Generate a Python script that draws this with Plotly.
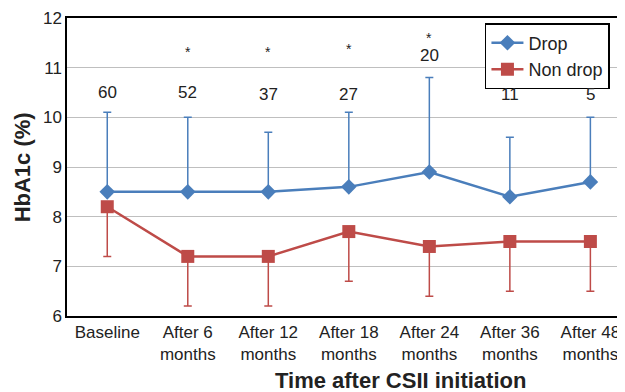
import plotly.graph_objects as go

categories = ["Baseline", "After 6<br>months", "After 12<br>months", "After 18<br>months",
              "After 24<br>months", "After 36<br>months", "After 48<br>months"]
drop_mean = [8.5, 8.5, 8.5, 8.6, 8.9, 8.4, 8.7]
drop_sd = [1.6, 1.5, 1.2, 1.5, 1.9, 1.2, 1.3]
nondrop_mean = [8.2, 7.2, 7.2, 7.7, 7.4, 7.5, 7.5]
nondrop_sd = [1.0, 1.0, 1.0, 1.0, 1.0, 1.0, 1.0]
n_labels = ["60", "52", "37", "27", "20", "11", "5"]
n_label_y = [10.5, 10.5, 10.45, 10.45, 11.25, 10.45, 10.45]
star_flags = [False, True, True, True, True, False, False]
star_y = [None, 11.32, 11.32, 11.37, 11.6, None, None]

blue = "#4A7EBB"
red = "#BE4B48"
x = list(range(len(categories)))

fig = go.Figure()
fig.add_trace(go.Scatter(
    x=x, y=drop_mean, name="Drop", mode="lines+markers",
    line=dict(color=blue, width=2.5),
    marker=dict(symbol="diamond", size=12, color=blue),
    error_y=dict(type="data", array=drop_sd, arrayminus=[0]*7, symmetric=False,
                 color=blue, thickness=1.5, width=4),
))
fig.add_trace(go.Scatter(
    x=x, y=nondrop_mean, name="Non drop", mode="lines+markers",
    line=dict(color=red, width=2.5),
    marker=dict(symbol="square", size=13, color=red),
    error_y=dict(type="data", array=[0]*7, arrayminus=nondrop_sd, symmetric=False,
                 color=red, thickness=1.5, width=4),
))

for i in x:
    fig.add_annotation(x=i, y=n_label_y[i], text=n_labels[i], showarrow=False,
                       font=dict(size=17, color="#222"))
    if star_flags[i]:
        fig.add_annotation(x=i, y=star_y[i], text="*", showarrow=False,
                           font=dict(size=14, color="#222"))

# page has an 8px body margin, so the figure is sized/positioned to compensate
fig.add_annotation(xref="paper", yref="paper", x=0.597, y=-0.215, yanchor="middle",
                   text="<b>Time after CSII initiation</b>", showarrow=False,
                   font=dict(size=22, color="#222"))
fig.add_annotation(xref="paper", yref="paper", x=-0.08, y=0.5, xanchor="center",
                   yanchor="middle",
                   text="<b>HbA1c (%)</b>", showarrow=False, textangle=-90,
                   font=dict(size=22, color="#222"))

fig.update_layout(
    width=617, height=384,
    margin=dict(l=59, r=0, t=10, b=76, autoexpand=False),
    paper_bgcolor="white", plot_bgcolor="white",
    font=dict(family="Liberation Sans, Arial, sans-serif", color="#222"),
    showlegend=True,
    legend=dict(x=0.749, y=0.983, xanchor="left", yanchor="top",
                bordercolor="black", borderwidth=1.5, bgcolor="white",
                font=dict(size=18), tracegroupgap=0, itemwidth=32),
    xaxis=dict(
        range=[-0.5, 6.43], tickmode="array", tickvals=x, ticktext=categories,
        tickfont=dict(size=17), showgrid=False, showline=True, linecolor="black",
        linewidth=1.5, mirror=True, ticks="", zeroline=False, automargin=False,
    ),
    yaxis=dict(
        range=[6, 12], dtick=1, tickfont=dict(size=17), showgrid=True,
        gridcolor="#BFBFBF", gridwidth=1.2, showline=True, linecolor="black",
        linewidth=1.5, mirror=True, ticks="", zeroline=False, automargin=False,
    ),
)

fig.write_html("out.html")
